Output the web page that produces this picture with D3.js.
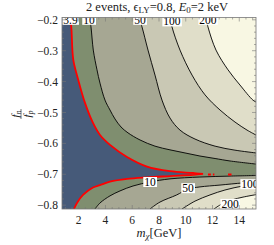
<!DOCTYPE html>
<html lang="en">
<head>
<meta charset="utf-8">
<script src="https://d3js.org/d3.v7.min.js"></script>
<style>
  body { margin: 0; background: #fff; }
  svg text { font-family: "Liberation Serif", "Times New Roman", "DejaVu Serif", serif; }
</style>
</head>
<body>
<div id="chart"></div>
<script>
// contour levels and their fills (below lowest level first)
var levels = [3.9, 10, 50, 100, 200];
var fills = ["#465a79", "#7f8e6f", "#a6a793", "#c9c8b4", "#e0dec9", "#f8f7e3"];

// contour lines, [m_chi, fn/fp]
// upper branch: from top edge to right edge; lower branch: from bottom edge to right edge
var upper39 = [[1.385,-0.1925],[1.46,-0.233],[1.595,-0.330],[1.968,-0.395],[2.469,-0.469],[3.067,-0.534],[3.59,-0.573],[4.337,-0.605],[5.608,-0.644],[7.103,-0.675],[8.822,-0.690],[10.54,-0.696],[11.29,-0.699]];
var lower39 = [[1.647,-0.8125],[1.871,-0.793],[2.32,-0.767],[3.067,-0.743],[3.59,-0.735],[4.337,-0.724],[5.608,-0.715],[7.103,-0.710],[8.822,-0.706],[10.54,-0.702],[11.29,-0.699]];
var upper10 = [[2.805,-0.1925],[2.917,-0.223],[3.089,-0.298],[3.366,-0.362],[3.59,-0.405],[3.964,-0.460],[4.337,-0.492],[4.711,-0.521],[5.16,-0.547],[5.683,-0.566],[6.58,-0.589],[7.70,-0.609],[8.822,-0.621],[9.943,-0.631],[11.06,-0.641],[12.19,-0.649],[13.31,-0.657],[15.25,-0.667]];
var lower10 = [[3.216,-0.8125],[3.59,-0.793],[4.337,-0.770],[5.085,-0.754],[6.056,-0.738],[7.327,-0.725],[8.822,-0.715],[11.06,-0.709],[13.31,-0.706],[15.25,-0.704]];
var upper50 = [[6.505,-0.1925],[6.729,-0.223],[7.178,-0.298],[7.701,-0.379],[8.224,-0.460],[8.822,-0.518],[9.569,-0.557],[10.69,-0.586],[12.19,-0.609],[13.68,-0.622],[15.25,-0.631]];
var lower50 = [[7.327,-0.8125],[8.074,-0.790],[9.322,-0.767],[10.17,-0.748],[11.06,-0.741],[12.56,-0.735],[14.28,-0.728],[15.25,-0.725]];
var upper100 = [[8.822,-0.1925],[8.971,-0.223],[9.569,-0.298],[10.47,-0.379],[11.44,-0.443],[12.56,-0.492],[13.68,-0.531],[14.58,-0.557],[15.25,-0.573]];
var lower100 = [[9.72,-0.8125],[10.69,-0.787],[11.81,-0.767],[12.93,-0.751],[14.28,-0.738],[15.25,-0.733]];
var upper200 = [[11.51,-0.1925],[11.66,-0.223],[12.26,-0.298],[13.16,-0.362],[14.05,-0.411],[15.02,-0.460],[15.25,-0.466]];
var lower200 = [[12.11,-0.8125],[12.71,-0.796],[13.46,-0.783],[14.28,-0.774],[15.25,-0.766]];

// broken red bits past the tip of the excluded wedge
var redBits = [[11.66, 11.88], [12.03, 12.14], [13.16, 13.42]];
var redBitsY = -0.701;

// contour labels: text, m_chi, fn/fp
var labels = [["3.9",1.385,-0.2],["10",2.768,-0.2],["50",6.58,-0.2],["100",8.97,-0.205],["200",11.66,-0.2],
              ["10",7.33,-0.725],["50",10.17,-0.745],["100",14.80,-0.732],["200",13.31,-0.796]];

var xTicks = [2, 4, 6, 8, 10, 12, 14];
var yTicks = [-0.8, -0.7, -0.6, -0.5, -0.4, -0.3, -0.2];

var W = 274, H = 245;
var x0 = 0.75, x1 = 15.25, y0 = -0.8125, y1 = -0.1925;
var x = d3.scaleLinear().domain([x0, x1]).range([62, 256]);
var y = d3.scaleLinear().domain([y0, y1]).range([209, 17.5]);
var serif = "'Liberation Serif', 'Times New Roman', 'DejaVu Serif', serif";

var svg = d3.select("#chart").append("svg").attr("width", W).attr("height", H)
  .attr("font-family", serif);

svg.append("clipPath").attr("id", "clip").append("rect")
  .attr("x", x(x0)).attr("y", y(y1)).attr("width", x(x1) - x(x0)).attr("height", y(y0) - y(y1));

var plot = svg.append("g").attr("clip-path", "url(#clip)");

var line = d3.line().x(d => x(d[0])).y(d => y(d[1])).curve(d3.curveCatmullRom.alpha(0.5));

var branches = [[upper39, lower39], [upper10, lower10], [upper50, lower50], [upper100, lower100], [upper200, lower200]];

// background = highest band
plot.append("rect").attr("x", x(x0)).attr("y", y(y1))
  .attr("width", x(x1) - x(x0)).attr("height", y(y0) - y(y1)).attr("fill", fills[5]);

// nested regions, from outside in
for (var i = levels.length - 1; i >= 0; i--) {
  var up = branches[i][0], lo = branches[i][1].slice().reverse();
  var d = "M" + x(x0) + "," + y(y1) + "L" + line(up).slice(1) + "L" + line(lo).slice(1) +
          "L" + x(x0) + "," + y(y0) + "Z";
  plot.append("path").attr("d", d).attr("fill", fills[i]).attr("stroke", "none");
}

// contour lines
for (var i = 1; i < levels.length; i++) {
  branches[i].forEach(function (b) {
    plot.append("path").attr("d", line(b)).attr("fill", "none").attr("stroke", "#000").attr("stroke-width", 0.9);
  });
}
plot.append("path").attr("d", line(upper39.concat(lower39.slice().reverse())))
  .attr("fill", "none").attr("stroke", "#f00").attr("stroke-width", 1.8);
redBits.forEach(function (b) {
  plot.append("line").attr("x1", x(b[0])).attr("x2", x(b[1])).attr("y1", y(redBitsY)).attr("y2", y(redBitsY))
    .attr("stroke", "#f00").attr("stroke-width", 2);
});

// labels on contours
labels.forEach(function (l) {
  var g = plot.append("g").attr("transform", "translate(" + x(l[1]) + "," + y(l[2]) + ")");
  var t = g.append("text").attr("text-anchor", "middle").attr("dy", "0.35em")
    .attr("font-size", 11.5).attr("fill", "#000").text(l[0]);
  var bb = t.node().getBBox();
  g.insert("rect", "text").attr("x", bb.x - 1).attr("y", bb.y + 1)
    .attr("width", bb.width + 2).attr("height", bb.height - 2).attr("fill", "#fff");
});

// frame
var frame = svg.append("g");
frame.append("rect").attr("x", x(x0)).attr("y", y(y1)).attr("width", x(x1) - x(x0)).attr("height", y(y0) - y(y1))
  .attr("fill", "none").attr("stroke", "#777").attr("stroke-width", 0.8);

var minorX = d3.range(1, 15.01, 0.5);
var minorY = d3.range(-0.8, -0.199, 0.02);
minorX.forEach(function (v) {
  var major = xTicks.indexOf(Math.round(v * 10) / 10) >= 0;
  var len = major ? 4 : 2;
  frame.append("line").attr("x1", x(v)).attr("x2", x(v)).attr("y1", y(y0)).attr("y2", y(y0) - len).attr("stroke", "#777").attr("stroke-width", 0.6);
  frame.append("line").attr("x1", x(v)).attr("x2", x(v)).attr("y1", y(y1)).attr("y2", y(y1) + len).attr("stroke", "#777").attr("stroke-width", 0.6);
});
minorY.forEach(function (v) {
  var major = Math.abs(v * 10 - Math.round(v * 10)) < 1e-6;
  var len = major ? 4 : 2;
  frame.append("line").attr("x1", x(x0)).attr("x2", x(x0) + len).attr("y1", y(v)).attr("y2", y(v)).attr("stroke", "#777").attr("stroke-width", 0.6);
  frame.append("line").attr("x1", x(x1)).attr("x2", x(x1) - len).attr("y1", y(v)).attr("y2", y(v)).attr("stroke", "#777").attr("stroke-width", 0.6);
});

xTicks.forEach(function (v) {
  frame.append("text").attr("x", x(v)).attr("y", 224).attr("text-anchor", "middle")
    .attr("font-size", 11.5).attr("fill", "#222").text(v);
});
yTicks.forEach(function (v) {
  frame.append("text").attr("x", 58).attr("y", y(v)).attr("dy", "0.35em").attr("text-anchor", "end")
    .attr("font-size", 11.5).attr("fill", "#222").text("\u2212" + Math.abs(v).toFixed(1));
});

// title
var title = svg.append("text").attr("x", 157).attr("y", 11).attr("text-anchor", "middle")
  .attr("font-size", 12.5).attr("fill", "#222");
title.append("tspan").text("2 events, \u03F5");
title.append("tspan").attr("font-size", 9).attr("dy", 2).text("LY");
title.append("tspan").attr("dy", -2).text("=0.8, ");
title.append("tspan").attr("font-style", "italic").text("E");
title.append("tspan").attr("font-size", 9).attr("dy", 2).text("0");
title.append("tspan").attr("dy", -2).text("=2 keV");

// x label
var xl = svg.append("text").attr("x", 159).attr("y", 237).attr("text-anchor", "middle")
  .attr("font-size", 12.5).attr("fill", "#222");
xl.append("tspan").attr("font-style", "italic").text("m");
xl.append("tspan").attr("font-size", 9).attr("dy", 2).attr("font-style", "italic").text("\u03C7");
xl.append("tspan").attr("dy", -2).text("[GeV]");

// y label: fraction fn / fp, rotated
var yl = svg.append("g").attr("transform", "translate(21,114) rotate(-90)");
yl.append("line").attr("x1", -5).attr("x2", 5).attr("y1", 0).attr("y2", 0).attr("stroke", "#222").attr("stroke-width", 0.6);
var num = yl.append("text").attr("x", 0).attr("y", -2).attr("text-anchor", "middle").attr("font-size", 11).attr("fill", "#222");
num.append("tspan").attr("font-style", "italic").text("f");
num.append("tspan").attr("font-size", 7.5).attr("dy", 2).attr("font-style", "italic").text("n");
var den = yl.append("text").attr("x", 0).attr("y", 9.5).attr("text-anchor", "middle").attr("font-size", 11).attr("fill", "#222");
den.append("tspan").attr("font-style", "italic").text("f");
den.append("tspan").attr("font-size", 7.5).attr("dy", 2).attr("font-style", "italic").text("p");
</script>
</body>
</html>
